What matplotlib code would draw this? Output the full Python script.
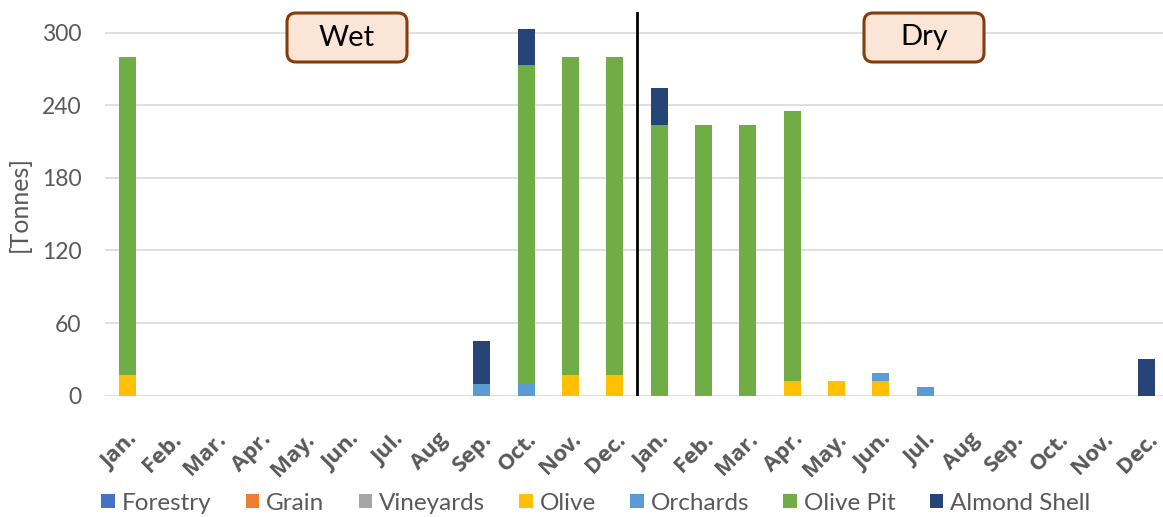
import matplotlib
matplotlib.use("Agg")
import matplotlib.pyplot as plt
from matplotlib.patches import Patch, FancyBboxPatch
import numpy as np

plt.rcParams['font.family'] = ['Lato', 'DejaVu Sans']

# monthly biomass residues, wet season then dry season
months = ["Jan.", "Feb.", "Mar.", "Apr.", "May.", "Jun.", "Jul.", "Aug",
          "Sep.", "Oct.", "Nov.", "Dec."] * 2

forestry = [0] * 24
grain = [0] * 24
vineyards = [0] * 24
olive = [17, 0, 0, 0, 0, 0, 0, 0, 0, 0, 17, 17,
         0, 0, 0, 12, 12, 12, 0, 0, 0, 0, 0, 0]
orchards = [0, 0, 0, 0, 0, 0, 0, 0, 10, 10, 0, 0,
            0, 0, 0, 0, 0, 7, 7, 0, 0, 0, 0, 0]
olive_pit = [263, 0, 0, 0, 0, 0, 0, 0, 0, 263, 263, 263,
             224, 224, 224, 223, 0, 0, 0, 0, 0, 0, 0, 0]
almond_shell = [0, 0, 0, 0, 0, 0, 0, 0, 35, 30, 0, 0,
                30, 0, 0, 0, 0, 0, 0, 0, 0, 0, 0, 30]

series = [
    ("Forestry", forestry, "#4472C4"),
    ("Grain", grain, "#ED7D31"),
    ("Vineyards", vineyards, "#A5A5A5"),
    ("Olive", olive, "#FFC000"),
    ("Orchards", orchards, "#5B9BD5"),
    ("Olive Pit", olive_pit, "#70AD47"),
    ("Almond Shell", almond_shell, "#264478"),
]

W, H = 1163, 517
fig = plt.figure(figsize=(W / 100, H / 100), dpi=100)
ax = fig.add_axes([105 / W, 121.3 / H, 1064 / W, 383.7 / H])

x = np.arange(len(months))
bottom = np.zeros(len(months))
for name, vals, color in series:
    vals = np.array(vals, dtype=float)
    ax.bar(x, vals, width=0.39, bottom=bottom, color=color, label=name,
           edgecolor="none", zorder=3)
    bottom += vals

ax.set_xlim(-0.5, 23.5)
ax.set_ylim(0, 317)
ax.set_yticks(range(0, 301, 60))
ax.yaxis.grid(True, color="#D9D9D9", linewidth=1.2, zorder=0)
ax.set_axisbelow(True)
for s in ax.spines.values():
    s.set_visible(False)
ax.tick_params(axis="both", length=0, colors="#595959")
ax.tick_params(axis="y", labelsize=16.5, pad=17)
ax.set_xticks(x)
ax.set_xticklabels(months, rotation=45, ha="right", rotation_mode="anchor",
                   fontsize=16, fontweight="bold", family="Open Sans")
ax.tick_params(axis="x", pad=24)
ax.set_ylabel("[Tonnes]", fontsize=18, color="#595959", labelpad=8)

# season divider
ax.axvline(11.5, color="black", linewidth=2, zorder=4)

# season labels in rounded boxes
for label, cx in [("Wet", 347), ("Dry", 924)]:
    bw, bh, cy = 120, 49, 37.5
    box = FancyBboxPatch(((cx - bw / 2) / W, (H - cy - bh / 2) / H), bw / W, bh / H,
                         boxstyle="round,pad=0,rounding_size=%f" % (9 / W),
                         mutation_aspect=W / H, transform=fig.transFigure,
                         facecolor="#FBE5D6", edgecolor="#843C0C", linewidth=2.2,
                         zorder=5)
    fig.add_artist(box)
    fig.text(cx / W, (H - cy) / H, label, ha="center", va="center",
             fontsize=21, color="black", zorder=6)

handles = [Patch(facecolor=c, label=n) for n, _, c in series]
fig.legend(handles=handles, loc="center", bbox_to_anchor=(596 / W, 14 / H),
           ncol=7, frameon=False, fontsize=17.5, handlelength=0.55, handleheight=0.55,
           handletextpad=0.3, columnspacing=1.4, labelcolor="#595959",
           borderpad=0.2)

fig.savefig("out.png", dpi=100)
